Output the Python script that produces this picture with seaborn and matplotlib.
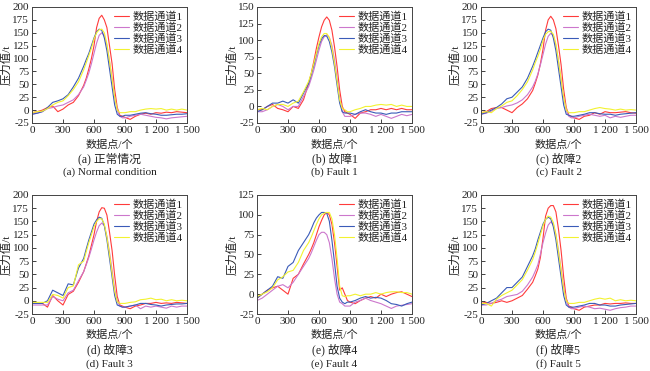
import numpy as np
import pandas as pd
import matplotlib
matplotlib.use("Agg")
import matplotlib.pyplot as plt
import seaborn as sns

# sample index: coarse on the tails, finer around the pressure peak
x = list(range(0, 501, 50)) + list(range(525, 901, 25)) + list(range(950, 1501, 50))

channels = ["数据通道1", "数据通道2", "数据通道3", "数据通道4"]
colors = ["#ff3b3b", "#cc77cc", "#3a5bb8", "#f2f230"]

# (a) normal condition
a_ch1 = [-5, -3, 0, 5, 8, -3, 2, 10, 15, 28, 48,
         62, 80, 100, 125, 160, 178, 184, 175, 160, 125, 90, 40, 5, -10, -12, -14,
         -18, -12, -8, -6, -8, -5, -6, -4, -5, -3, -4, -5]
a_ch2 = [-8, -6, -3, 3, 5, 8, 10, 15, 20, 30, 45,
         58, 72, 90, 110, 130, 145, 150, 145, 125, 95, 60, 25, 0, -12, -15, -15,
         -12, -10, -8, -10, -12, -14, -15, -17, -15, -14, -13, -12]
a_ch3 = [-8, -6, -3, 5, 15, 18, 22, 30, 45, 62, 85,
         98, 110, 125, 140, 152, 157, 155, 140, 115, 80, 45, 10, -8, -12, -12, -10,
         -10, -8, -6, -5, -7, -8, -10, -10, -9, -8, -8, -7]
a_ch4 = [-5, -3, -2, 3, 10, 15, 18, 28, 40, 55, 78,
         92, 106, 120, 138, 150, 156, 157, 150, 128, 95, 60, 25, 0, -5, -5, -5,
         -3, -3, 0, 2, 3, 2, 3, 0, 2, 0, 2, 0]

# (b) fault 1
b_ch1 = [-5, -5, 0, 3, -3, -5, -8, 0, -3, 10, 35,
         50, 68, 88, 105, 120, 130, 135, 130, 115, 90, 60, 25, 0, -8, -10, -12,
         -18, -10, -8, -5, -5, -3, -5, -3, -5, -3, -5, -5]
b_ch2 = [-8, -8, -5, 0, 3, 0, -5, 0, 0, 15, 30,
         42, 55, 70, 85, 98, 105, 108, 104, 92, 70, 42, 12, -8, -15, -15, -15,
         -12, -10, -10, -12, -15, -12, -15, -18, -15, -12, -14, -12]
b_ch3 = [-8, -5, 0, 5, 5, 8, 5, 10, 5, 20, 35,
         48, 62, 78, 92, 102, 107, 106, 98, 82, 60, 32, 5, -8, -10, -10, -10,
         -12, -8, -5, -8, -10, -10, -12, -10, -10, -8, -8, -8]
b_ch4 = [-5, -3, -5, 0, 3, 3, 0, 5, 8, 22, 38,
         50, 65, 80, 95, 105, 110, 110, 104, 88, 65, 38, 10, -3, -5, -8, -8,
         -5, -3, 0, 0, 2, 3, 2, 3, 0, 2, 0, 0]

# (c) fault 2
c_ch1 = [-5, -3, 3, 5, 5, 0, -5, 5, 12, 22, 38,
         52, 68, 90, 118, 155, 175, 182, 175, 158, 125, 88, 40, 5, -10, -12, -15,
         -18, -12, -10, -5, -8, -3, -5, -5, -4, -3, -5, -6]
c_ch2 = [-8, -6, -2, 3, 5, 8, 10, 14, 20, 30, 45,
         56, 70, 88, 108, 128, 143, 149, 145, 125, 95, 60, 25, 0, -12, -15, -15,
         -12, -10, -8, -10, -12, -10, -15, -12, -14, -12, -10, -10]
c_ch3 = [-8, -5, 0, 5, 12, 22, 25, 35, 45, 62, 85,
         98, 112, 126, 140, 152, 157, 155, 140, 115, 80, 45, 10, -8, -10, -12, -12,
         -10, -8, -5, -5, -7, -8, -8, -10, -8, -7, -6, -5]
c_ch4 = [-5, -3, -5, 3, 8, 15, 18, 28, 40, 55, 78,
         92, 104, 118, 135, 147, 152, 153, 147, 128, 95, 60, 25, 0, -5, -5, -5,
         -3, -3, 0, 3, 5, 3, 2, 0, 2, 0, 1, 0]

# (d) fault 3
d_ch1 = [-5, -5, -5, -12, 10, 0, -8, 12, 18, 35, 55,
         70, 85, 105, 125, 150, 168, 176, 175, 162, 130, 95, 48, 8, -8, -10, -12,
         -15, -10, -8, -5, -5, -3, -5, -4, -5, -3, -4, -5]
d_ch2 = [-8, -8, -8, -8, 8, 3, 0, 15, 20, 38, 55,
         68, 82, 98, 115, 130, 142, 147, 142, 122, 92, 58, 22, 0, -10, -12, -12,
         -10, -8, -15, -10, -12, -10, -12, -14, -10, -12, -10, -10]
d_ch3 = [-5, -5, -5, 0, 20, 15, 10, 32, 30, 62, 80,
         98, 115, 130, 145, 153, 158, 156, 142, 115, 80, 45, 10, -8, -10, -12, -12,
         -10, -8, -5, -5, -7, -8, -10, -8, -7, -6, -6, -5]
d_ch4 = [-3, -3, -3, -3, 12, 10, 5, 25, 28, 68, 75,
         93, 110, 125, 140, 150, 155, 155, 145, 120, 88, 52, 18, -2, -5, -5, -5,
         -3, -2, 2, 3, 5, 2, 3, 0, 2, 0, 1, 0]

# (e) fault 4
e_ch1 = [-5, 0, 5, 8, 10, 5, 0, 20, 25, 38, 50,
         57, 65, 75, 85, 93, 100, 103, 100, 88, 65, 35, 5, 8, 0, -8, -10,
         -12, -8, -5, -3, -5, 0, -3, 0, 2, 3, 0, -3]
e_ch2 = [-8, -5, 0, 5, 10, 12, 8, 15, 25, 35, 45,
         52, 60, 68, 75, 78, 78, 75, 65, 45, 20, 0, -10, -12, -15, -15, -15,
         -10, -8, -5, -8, -10, -12, -15, -18, -15, -14, -13, -12]
e_ch3 = [-5, 0, 5, 10, 22, 20, 35, 40, 55, 65, 75,
         82, 90, 96, 100, 103, 103, 102, 92, 68, 40, 10, -5, -10, -12, -10, -10,
         -8, -5, -3, -5, -4, -5, -8, -12, -13, -15, -12, -10]
e_ch4 = [-3, 0, 3, 8, 18, 22, 28, 30, 40, 55, 65,
         72, 80, 88, 95, 100, 102, 103, 103, 95, 75, 45, 10, -2, -3, -2, -2,
         0, -2, 0, 0, 2, 0, 2, 3, 3, 2, 2, 0]

# (f) fault 5
f_ch1 = [-5, -3, -5, -3, 0, -3, 0, 5, 10, 22, 35,
         47, 60, 82, 118, 160, 175, 180, 180, 168, 135, 95, 45, 5, -10, -12, -15,
         -18, -12, -10, -8, -8, -5, -6, -5, -5, -4, -5, -5]
f_ch2 = [-8, -8, -5, 0, 3, 8, 10, 12, 18, 30, 45,
         56, 68, 88, 110, 128, 143, 149, 145, 125, 95, 60, 25, 0, -12, -15, -15,
         -12, -10, -12, -15, -14, -16, -18, -15, -13, -12, -10, -10]
f_ch3 = [-8, -5, 0, 5, 15, 25, 25, 35, 45, 65, 85,
         98, 115, 130, 145, 154, 158, 155, 140, 115, 80, 45, 10, -8, -12, -12, -12,
         -10, -8, -5, -5, -8, -8, -10, -10, -8, -7, -6, -5]
f_ch4 = [-5, -5, -10, 3, 10, 15, 20, 30, 40, 58, 78,
         92, 108, 125, 142, 154, 160, 158, 148, 125, 92, 58, 22, 0, -5, -5, -5,
         -3, -3, 0, 3, 5, 3, 5, 0, 2, 0, 1, 0]

panels = [
    ("(a) 正常情况", "(a) Normal condition", [a_ch1, a_ch2, a_ch3, a_ch4], 200),
    ("(b) 故障1", "(b) Fault 1", [b_ch1, b_ch2, b_ch3, b_ch4], 150),
    ("(c) 故障2", "(c) Fault 2", [c_ch1, c_ch2, c_ch3, c_ch4], 200),
    ("(d) 故障3", "(d) Fault 3", [d_ch1, d_ch2, d_ch3, d_ch4], 200),
    ("(e) 故障4", "(e) Fault 4", [e_ch1, e_ch2, e_ch3, e_ch4], 125),
    ("(f) 故障5", "(f) Fault 5", [f_ch1, f_ch2, f_ch3, f_ch4], 200),
]

xticks = [0, 300, 600, 900, 1200, 1500]
xticklabels = ["0", "300", "600", "900", "1 200", "1 500"]

sns.set_style("ticks")
plt.rcParams["font.family"] = ["Liberation Serif", "Noto Sans CJK SC"]
plt.rcParams["axes.unicode_minus"] = False

W, H = 650, 371
fig = plt.figure(figsize=(6.5, 3.71), dpi=100)

col_left = [32, 257, 481]
col_width = 155
row_top = [7, 195]
row_bottom = [123, 314]
cap_y = [(145, 159, 172), (335, 350, 364)]

txt_col = "#222222"

for i, (cn, en, series, ymax) in enumerate(panels):
    r, c = divmod(i, 3)
    left = col_left[c]
    ax = fig.add_axes([left / W, 1 - row_bottom[r] / H, col_width / W,
                       (row_bottom[r] - row_top[r]) / H])
    for name, vals, col in zip(channels, series, colors):
        sns.lineplot(x=x, y=vals, ax=ax, color=col, linewidth=0.8, label=name)
    ax.set_xlim(0, 1500)
    ax.set_ylim(-25, ymax)
    ax.set_xticks(xticks)
    ax.set_xticklabels(xticklabels)
    ax.set_yticks(np.arange(-25, ymax + 1, 25))
    ax.tick_params(direction="in", length=3, width=0.6, labelsize=8,
                   colors=txt_col, pad=2)
    for sp in ax.spines.values():
        sp.set_linewidth(0.7)
        sp.set_color("#444444")
    ax.set_ylabel("压力值/t", fontsize=8.2, color=txt_col, labelpad=0.5)
    ax.set_xlabel("")
    leg = ax.legend(loc="upper right", frameon=False, fontsize=8,
                    handlelength=1.4, handletextpad=0.3, labelspacing=0.02,
                    borderaxespad=0.1, borderpad=0.3)
    for t in leg.get_texts():
        t.set_color(txt_col)
    cx = (left + col_width / 2) / W
    y0, y1, y2 = cap_y[r]
    fig.text(cx, 1 - y0 / H, "数据点/个", ha="center", va="center",
             fontsize=8, color=txt_col)
    fig.text(cx, 1 - y1 / H, cn, ha="center", va="center",
             fontsize=8.5, color=txt_col)
    fig.text(cx, 1 - y2 / H, en, ha="center", va="center",
             fontsize=8, color=txt_col)

fig.savefig("out.png", dpi=100)
